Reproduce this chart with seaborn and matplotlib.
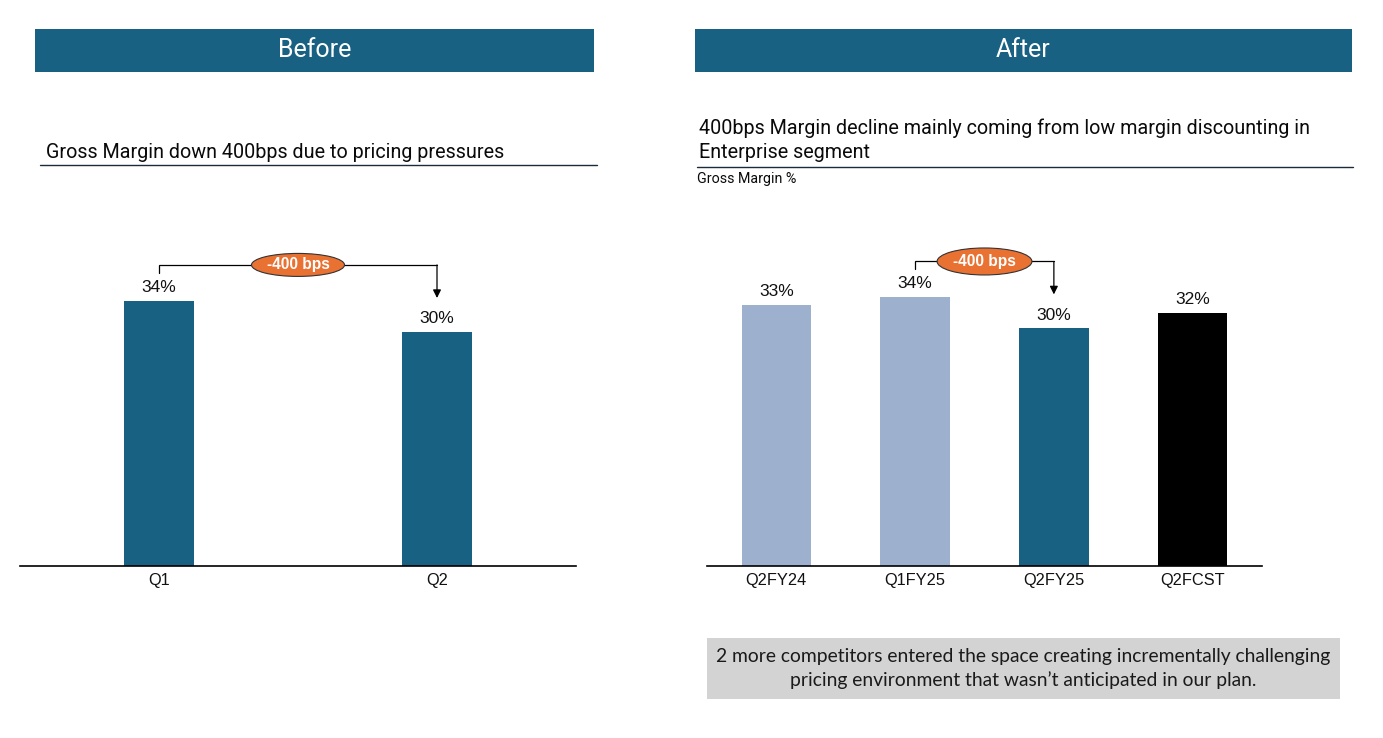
import matplotlib
matplotlib.use("Agg")
import matplotlib.pyplot as plt
import seaborn as sns
from matplotlib.patches import Rectangle, Ellipse

# ---------------- data ----------------
before_cats = ["Q1", "Q2"]
before_vals = [34, 30]
before_labels = ["34%", "30%"]

after_cats = ["Q2FY24", "Q1FY25", "Q2FY25", "Q2FCST"]
after_vals = [33, 34, 30, 32]
after_labels = ["33%", "34%", "30%", "32%"]

delta_label = "-400 bps"
before_header = "Before"
after_header = "After"
before_title = "Gross Margin down 400bps due to pricing pressures"
after_title = "400bps Margin decline mainly coming from low margin discounting in\nEnterprise segment"
after_ylabel = "Gross Margin %"
note_text = ("2 more competitors entered the space creating incrementally challenging\n"
             "pricing environment that wasn\u2019t anticipated in our plan.")

# ---------------- style ----------------
TEAL = "#186183"
LIGHT = "#9DB0CE"
BLACK = "#000000"
ORANGE = "#E97132"
HEAD_FONT = ["Roboto", "DejaVu Sans"]
NUM_FONT = ["Liberation Sans", "DejaVu Sans"]
NOTE_FONT = ["Lato", "DejaVu Sans"]

sns.set_theme(style="white")
plt.rcParams["font.family"] = NUM_FONT

W, H = 1383, 738
fig = plt.figure(figsize=(W / 100, H / 100), dpi=100)

# background layer in pixel coordinates
bg = fig.add_axes([0, 0, 1, 1])
bg.set_xlim(0, W)
bg.set_ylim(H, 0)
bg.axis("off")

# headers
bg.add_patch(Rectangle((35, 29), 559, 43, color=TEAL, lw=0))
bg.add_patch(Rectangle((695, 29), 657, 43, color=TEAL, lw=0))
bg.text(314.5, 50, before_header, color="white", fontsize=18, ha="center", va="center", family=HEAD_FONT)
bg.text(1023.5, 50, after_header, color="white", fontsize=18, ha="center", va="center", family=HEAD_FONT)

# subtitles
bg.text(46, 152, before_title, fontsize=14.2, ha="left", va="center", family=HEAD_FONT, color="#0a0a0a")
bg.plot([40, 597], [165, 165], color="#1c2b3a", lw=1)
bg.text(699, 140, after_title, fontsize=14.2, ha="left", va="center", family=HEAD_FONT,
        color="#0a0a0a", linespacing=1.3)
bg.plot([697, 1353], [167, 167], color="#1c2b3a", lw=1)
bg.text(697, 178.5, after_ylabel, fontsize=10.3, ha="left", va="center", family=HEAD_FONT, color="#0a0a0a")

# note box
bg.add_patch(Rectangle((707, 638), 633, 61, color="#D3D3D3", lw=0))
bg.text(1023.5, 668.5, note_text, fontsize=13.9, ha="center", va="center", family=NOTE_FONT,
        color="#1a1a1a", linespacing=1.38)

ax_bottom = 1 - 566 / H
ax_h = 366 / H
axL = fig.add_axes([20 / W, ax_bottom, 556 / W, ax_h])
axR = fig.add_axes([707 / W, ax_bottom, 555 / W, ax_h])


def style_axis(ax, ymax, ncat):
    ax.set_xlim(-0.5, ncat - 0.5)
    ax.set_ylim(0, ymax)
    for s in ["left", "right", "top"]:
        ax.spines[s].set_visible(False)
    ax.spines["bottom"].set_color("black")
    ax.spines["bottom"].set_linewidth(1.2)
    ax.set_yticks([])
    ax.set_xlabel("")
    ax.set_ylabel("")
    ax.tick_params(axis="x", length=0, pad=5, labelsize=11.8, labelcolor="#111111")
    ax.patch.set_alpha(0)
    ax.grid(False)


# ---- Before chart ----
sns.barplot(x=before_cats, y=before_vals, hue=before_cats, palette=[TEAL, TEAL],
            width=0.25, saturation=1, legend=False, ax=axL, linewidth=0)
style_axis(axL, 366 / 7.8, len(before_cats))
for i, (v, lab) in enumerate(zip(before_vals, before_labels)):
    axL.annotate(lab, (i, v), xytext=(0, 9.5), textcoords="offset points",
                 ha="center", va="center", fontsize=12.5, color="#111111")

# ---- After chart ----
sns.barplot(x=after_cats, y=after_vals, hue=after_cats, palette=[LIGHT, LIGHT, TEAL, BLACK],
            width=0.5, saturation=1, legend=False, ax=axR, linewidth=0)
style_axis(axR, 366 / 7.92, len(after_cats))
for i, (v, lab) in enumerate(zip(after_vals, after_labels)):
    axR.annotate(lab, (i, v), xytext=(0, 9.5), textcoords="offset points",
                 ha="center", va="center", fontsize=12.5, color="#111111")


def bracket(ax, i0, i1, v0, v1, top_y, ell_w, ell_h, px):
    # px: pixels per data unit in y
    ax.plot([i0, i0, i1], [v0 + 28 / px, top_y, top_y], color="black", lw=0.9,
            clip_on=False, zorder=3, solid_joinstyle="miter")
    ax.annotate("", xy=(i1, v1 + 34 / px), xytext=(i1, top_y),
                arrowprops=dict(arrowstyle="-|>", color="black", lw=0.9,
                                mutation_scale=12, shrinkA=0, shrinkB=0),
                annotation_clip=False, zorder=3)
    xm = (i0 + i1) / 2
    ax.add_patch(Ellipse((xm, top_y), ell_w, ell_h, facecolor=ORANGE, edgecolor="#333333",
                         lw=0.8, clip_on=False, zorder=4))
    ax.text(xm, top_y, delta_label, color="white", fontsize=11.2, fontweight="bold",
            ha="center", va="center", zorder=5, clip_on=False)


bracket(axL, 0, 1, before_vals[0], before_vals[1], max(before_vals) + 4.6, 93 / 278, 23 / 7.8, 7.8)
bracket(axR, 1, 2, after_vals[1], after_vals[2], max(after_vals) + 4.45, 95 / 139, 27 / 7.92, 7.92)

fig.savefig("out.png", dpi=100, facecolor="white")
